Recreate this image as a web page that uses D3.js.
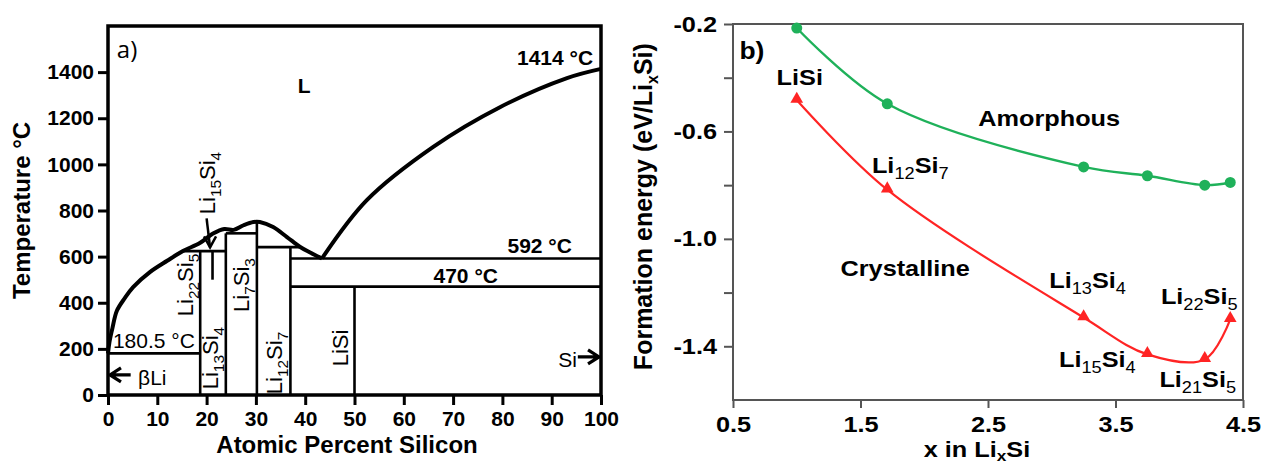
<!DOCTYPE html>
<html>
<head>
<meta charset="utf-8">
<script src="https://cdn.jsdelivr.net/npm/d3@7"></script>
<style>
  html, body { margin: 0; padding: 0; background: #fff; }
  svg { display: block; font-family: "Liberation Sans", Arial, sans-serif; }
</style>
</head>
<body>
<svg id="chart" width="1262" height="468"></svg>
<script>
// ---------- Panel a: Li–Si phase diagram ----------
const tempTicks = [0, 200, 400, 600, 800, 1000, 1200, 1400];
const siTicks = [0, 10, 20, 30, 40, 50, 60, 70, 80, 90, 100];

// liquidus, Li-rich side (at.% Si, °C)
const liquidusLiRich = [
  [0, 180.5], [0.3, 230], [0.9, 290], [1.8, 365], [3.4, 420], [5.1, 468],
  [8.5, 533], [12, 582], [15.2, 624], [18.7, 660], [21.3, 700], [23.6, 720],
  [25.5, 716], [27.5, 736], [29.5, 750], [30.8, 750], [33.5, 728], [36.3, 685],
  [38.9, 643], [41, 618], [43.4, 592]
];
// liquidus, Si-rich side
const liquidusSiRich = [
  [43.4, 592], [52.5, 845], [65.9, 1075], [79.5, 1248], [93.1, 1374], [100, 1414]
];
// invariant lines and compound lines
const phaseSegments = [
  [[0, 180.5], [18.7, 180.5]],
  [[18.7, 0], [18.7, 624]],
  [[15.2, 624], [23.9, 624]],
  [[23.9, 0], [23.9, 701]],
  [[23.9, 701], [30.2, 701]],
  [[30.2, 0], [30.2, 751]],
  [[30.2, 641], [38.8, 641]],
  [[37.0, 0], [37.0, 641]],
  [[37.0, 592], [100, 592]],
  [[37.0, 470], [100, 470]],
  [[50, 0], [50, 470]],
  [[21.2, 622], [21.2, 500]]
];
const compoundNames = ["Li22Si5", "Li13Si4", "Li7Si3", "Li12Si7", "LiSi", "Li15Si4"];
const compoundLabelSi = [17.2, 22.3, 28.6, 35.3, 48.7, 21.7];
const compoundLabelT = [477, 160, 477, 139, 204, 919];

// ---------- Panel b: formation energies ----------
const lithiumContent = [1.0, 1.71, 3.25, 3.75, 4.2, 4.4];
const amorphousEnergy = [-0.215, -0.497, -0.732, -0.765, -0.80, -0.79];
const crystallineEnergy = [-0.483, -0.817, -1.293, -1.43, -1.449, -1.30];
const crystallinePhases = ["LiSi", "Li12Si7", "Li13Si4", "Li15Si4", "Li21Si5", "Li22Si5"];
const energyTicks = [-0.2, -0.4, -0.6, -0.8, -1.0, -1.2, -1.4];
const energyTickLabels = [-0.2, -0.6, -1.0, -1.4];
const xTicks = [0.5, 1.5, 2.5, 3.5, 4.5];

const svg = d3.select("#chart");

// writes a formula such as "Li22Si5" with digit runs as subscripts
function addFormula(textSel, str, size, subScale, shift, subWeight) {
  const parts = str.match(/[A-Za-z]+|\d+/g);
  let down = false;
  parts.forEach(p => {
    const sub = /^\d+$/.test(p);
    const t = textSel.append("tspan").text(p);
    if (sub) {
      t.attr("font-size", size * subScale).attr("dy", down ? 0 : shift);
      if (subWeight) t.attr("font-weight", subWeight);
      down = true;
    } else {
      t.attr("dy", down ? -shift : 0);
      down = false;
    }
  });
}

// ================= Panel a =================
const xA = d3.scaleLinear().domain([0, 100]).range([108, 601]);
const yA = d3.scaleLinear().domain([0, 1600]).range([395, 26]);
const gA = svg.append("g");

const axL = gA.append("g").attr("transform", `translate(${xA(0)},0)`)
  .call(d3.axisLeft(yA).tickValues(tempTicks).tickSize(10).tickPadding(4).tickFormat(d3.format("d")));
const axB = gA.append("g").attr("transform", `translate(0,${yA(0)})`)
  .call(d3.axisBottom(xA).tickValues(siTicks).tickSize(10).tickPadding(6).tickFormat(d3.format("d")));
[axL, axB].forEach(a => {
  a.select(".domain").remove();
  a.selectAll(".tick line").attr("stroke", "#000").attr("stroke-width", 3);
  a.selectAll(".tick text").attr("fill", "#000").attr("font-size", 21).attr("font-weight", "bold")
    .attr("font-family", "'Liberation Sans', Arial, sans-serif");
});

gA.append("rect")
  .attr("x", xA(0)).attr("y", yA(1600))
  .attr("width", xA(100) - xA(0)).attr("height", yA(0) - yA(1600))
  .attr("fill", "none").attr("stroke", "#000").attr("stroke-width", 3.5);

const lineA = d3.line().x(d => xA(d[0])).y(d => yA(d[1]));
gA.selectAll("path.seg").data(phaseSegments).join("path")
  .attr("class", "seg").attr("d", lineA)
  .attr("fill", "none").attr("stroke", "#000").attr("stroke-width", 2.6);

const curveA = d3.line().x(d => xA(d[0])).y(d => yA(d[1])).curve(d3.curveCatmullRom.alpha(0.5));
[liquidusLiRich, liquidusSiRich].forEach(d => {
  gA.append("path").attr("d", curveA(d))
    .attr("fill", "none").attr("stroke", "#000").attr("stroke-width", 4)
    .attr("stroke-linejoin", "round");
});

// compound labels, reading upward
compoundNames.forEach((name, i) => {
  const t = gA.append("text")
    .attr("transform", `translate(${xA(compoundLabelSi[i])},${yA(compoundLabelT[i])}) rotate(-90)`)
    .attr("text-anchor", "middle").attr("font-size", 22).attr("fill", "#000");
  addFormula(t, name, 22, 0.7, 6);
});

// Li15Si4 pointer
const arrowTip = [xA(20.7), yA(640)];
gA.append("path")
  .attr("d", `M${xA(20.0)},${yA(766)}L${arrowTip[0]},${arrowTip[1]}`)
  .attr("stroke", "#000").attr("stroke-width", 2.5).attr("fill", "none");
gA.append("path")
  .attr("d", `M${arrowTip[0] - 6},${arrowTip[1] - 11}L${arrowTip[0]},${arrowTip[1]}L${arrowTip[0] + 6},${arrowTip[1] - 11}`)
  .attr("stroke", "#000").attr("stroke-width", 2.5).attr("fill", "none");

// plain annotations
function textA(x, y, str, opts) {
  const t = gA.append("text").attr("x", xA(x)).attr("y", yA(y))
    .attr("font-size", opts.size || 21).attr("font-weight", opts.weight || "bold")
    .attr("text-anchor", opts.anchor || "start").attr("fill", "#000").text(str);
  if (opts.family) t.attr("font-family", opts.family);
  return t;
}
textA(1.8, 1461, "a)", { size: 24, weight: "normal", family: "'Open Sans', sans-serif" });
textA(38.5, 1309, "L", { size: 21 });
textA(98.4, 1430, "1414 °C", { size: 21, anchor: "end" });
textA(94.1, 615, "592 °C", { size: 21, anchor: "end" });
textA(79.1, 485, "470 °C", { size: 21, anchor: "end" });
textA(1.0, 204, "180.5 °C", { size: 21, weight: "normal" });
textA(6.1, 43, "βLi", { size: 21, weight: "normal" });
textA(95.1, 121, "Si", { size: 21, weight: "normal", anchor: "end" });

// βLi and Si arrows
const liArrowY = yA(87), siArrowY = yA(165);
gA.append("path")
  .attr("d", `M${xA(4.6)},${liArrowY}L${xA(0.4)},${liArrowY}M${xA(0.4) + 11},${liArrowY - 7}L${xA(0.4)},${liArrowY}L${xA(0.4) + 11},${liArrowY + 7}`)
  .attr("stroke", "#000").attr("stroke-width", 3.2).attr("fill", "none");
gA.append("path")
  .attr("d", `M${xA(95.3)},${siArrowY}L${xA(99.6)},${siArrowY}M${xA(99.6) - 11},${siArrowY - 7}L${xA(99.6)},${siArrowY}L${xA(99.6) - 11},${siArrowY + 7}`)
  .attr("stroke", "#000").attr("stroke-width", 3.2).attr("fill", "none");

// axis titles
gA.append("text")
  .attr("transform", `translate(30,${(yA(0) + yA(1600)) / 2}) rotate(-90)`)
  .attr("text-anchor", "middle").attr("font-size", 24).attr("font-weight", "bold").text("Temperature °C");
gA.append("text").attr("x", 347).attr("y", 453)
  .attr("text-anchor", "middle").attr("font-size", 24).attr("font-weight", "bold").text("Atomic Percent Silicon");

// ================= Panel b =================
const SX = 1.15;
const xB = d3.scaleLinear().domain([0.5, 4.5]).range([733, 1243]);
const yB = d3.scaleLinear().domain([-0.2, -1.6]).range([24, 400]);
const gB = svg.append("g");
const axisGray = "#555";

const isLabeled = v => energyTickLabels.some(l => Math.abs(l - v) < 1e-9);
const bl = gB.append("g").attr("transform", `translate(${xB(0.5)},0)`)
  .call(d3.axisLeft(yB).tickValues(energyTicks).tickSize(9).tickFormat(d => isLabeled(d) ? d.toFixed(1) : ""));
const bb = gB.append("g").attr("transform", `translate(0,${yB(-1.6)})`)
  .call(d3.axisBottom(xB).tickValues(xTicks).tickSize(8).tickFormat(d => d.toFixed(1)));
[bl, bb].forEach(a => {
  a.select(".domain").remove();
  a.selectAll(".tick line").attr("stroke", axisGray).attr("stroke-width", 2);
  a.selectAll(".tick text").attr("fill", "#000").attr("font-size", 22).attr("font-weight", "bold")
    .attr("font-family", "'Liberation Sans', Arial, sans-serif");
});
bl.selectAll(".tick text").attr("x", -16 / SX).attr("transform", `scale(${SX},1)`);
bb.selectAll(".tick text").attr("y", 0).attr("dy", "0").attr("transform", `translate(0,32) scale(${SX},1)`);

gB.append("rect")
  .attr("x", xB(0.5)).attr("y", yB(-0.2))
  .attr("width", xB(4.5) - xB(0.5)).attr("height", yB(-1.6) - yB(-0.2))
  .attr("fill", "none").attr("stroke", axisGray).attr("stroke-width", 2);

const green = "#1fb15a", red = "#ff2424";
const curveB = d3.line().x(d => xB(d[0])).y(d => yB(d[1])).curve(d3.curveCatmullRom.alpha(0.5));
const amorph = lithiumContent.map((x, i) => [x, amorphousEnergy[i]]);
const cryst = lithiumContent.map((x, i) => [x, crystallineEnergy[i]]);

gB.append("path").attr("d", curveB(amorph)).attr("fill", "none").attr("stroke", green).attr("stroke-width", 2.4);
gB.append("path").attr("d", curveB(cryst)).attr("fill", "none").attr("stroke", red).attr("stroke-width", 2.2);
gB.selectAll("circle.am").data(amorph).join("circle").attr("class", "am")
  .attr("cx", d => xB(d[0])).attr("cy", d => yB(d[1])).attr("r", 5.5).attr("fill", green);
gB.selectAll("path.cr").data(cryst).join("path").attr("class", "cr")
  .attr("transform", d => `translate(${xB(d[0])},${yB(d[1]) - 1})`)
  .attr("d", d3.symbol(d3.symbolTriangle, 70)).attr("fill", red);

function textB(x, y, anchor, size, str, formula) {
  const g = gB.append("g").attr("transform", `translate(${x},${y}) scale(${SX},1)`);
  const t = g.append("text").attr("text-anchor", anchor).attr("font-size", size)
    .attr("font-weight", "bold").attr("fill", "#000");
  if (formula) addFormula(t, str, size, 0.72, 6, "normal");
  else t.text(str);
  return t;
}

// phase labels, offset from their points
const phaseLabelDx = [3, 23, 4, -50, -7, -31];
const phaseLabelDy = [-15, -17, -30, 13, 28, -15];
crystallinePhases.forEach((name, i) => {
  textB(xB(lithiumContent[i]) + phaseLabelDx[i], yB(crystallineEnergy[i]) + phaseLabelDy[i], "middle", 22, name, true);
});
textB(xB(2.98), yB(-0.578), "middle", 22, "Amorphous");
textB(xB(1.85), yB(-1.14), "middle", 22, "Crystalline");
textB(xB(0.55), yB(-0.33), "start", 23, "b)");

// axis titles
const yTitle = gB.append("text")
  .attr("transform", `translate(652,${yB(-0.88)}) rotate(-90)`)
  .attr("text-anchor", "middle").attr("font-size", 25).attr("font-weight", "bold");
yTitle.append("tspan").text("Formation energy (eV/Li");
yTitle.append("tspan").text("x").attr("font-size", 16).attr("dy", 6);
yTitle.append("tspan").text("Si)").attr("dy", -6);

const xTitle = gB.append("g").attr("transform", `translate(977,457) scale(${SX},1)`)
  .append("text").attr("text-anchor", "middle").attr("font-size", 22).attr("font-weight", "bold");
xTitle.append("tspan").text("x in Li");
xTitle.append("tspan").text("x").attr("font-size", 15).attr("dy", 4);
xTitle.append("tspan").text("Si").attr("dy", -4);
</script>
</body>
</html>
